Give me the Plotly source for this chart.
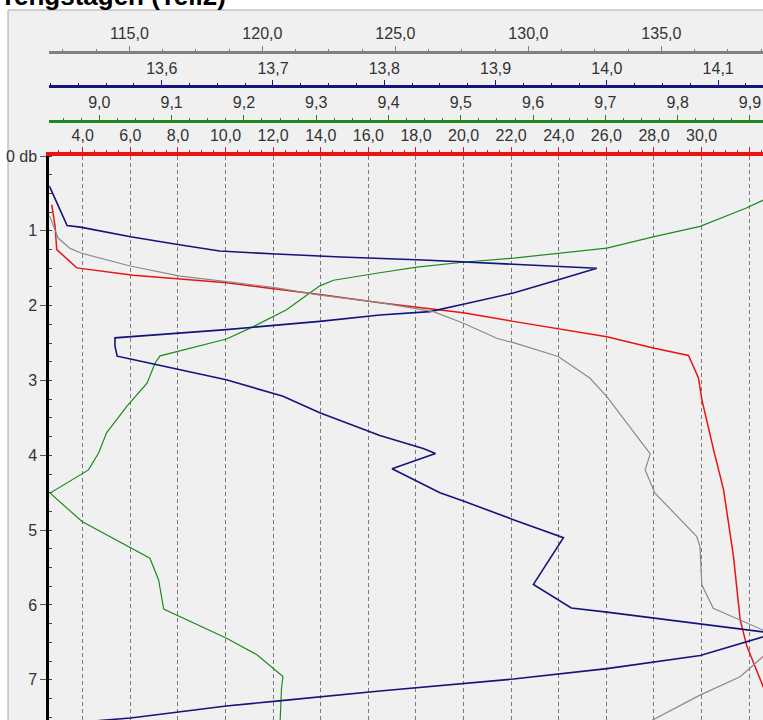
import plotly.graph_objects as go

# ---------------- data ----------------
# blue series (upper blue axis, 13.5 .. 14.14)
blue_val = [13.499, 13.515, 13.527, 13.572, 13.613, 13.652, 13.703, 13.761, 13.835, 13.916, 13.991,
            13.955, 13.916, 13.871, 13.841, 13.796, 13.742, 13.658, 13.574, 13.558, 13.558, 13.560,
            13.574, 13.658, 13.709, 13.742, 13.796, 13.835, 13.846, 13.807, 13.850, 13.871, 13.916,
            13.961, 13.934, 13.968, 14.000, 14.084, 14.151, 14.084, 14.000, 13.916, 13.796, 13.703,
            13.658, 13.572, 13.531]
blue_depth = [0.40, 0.93, 0.95, 1.08, 1.18, 1.27, 1.31, 1.35, 1.39, 1.45, 1.50,
              1.66, 1.83, 1.98, 2.08, 2.125, 2.21, 2.32, 2.41, 2.43, 2.54, 2.675,
              2.72, 2.99, 3.21, 3.43, 3.735, 3.91, 3.975, 4.18, 4.50, 4.61, 4.86,
              5.10, 5.725, 6.04, 6.095, 6.25, 6.38, 6.675, 6.85, 6.99, 7.15, 7.285,
              7.35, 7.51, 7.56]

# red series (red axis, 2.6 .. 32.6)
red_val = [2.70, 2.84, 2.91, 3.75, 6.13, 10.05, 12.01, 13.97, 16.49, 19.99, 22.09, 26.02,
           27.97, 29.45, 29.87, 30.01, 30.50, 30.92, 31.34, 31.62, 31.90, 32.46, 32.80]
red_depth = [0.65, 0.94, 1.25, 1.495, 1.595, 1.695, 1.775, 1.85, 1.96, 2.095, 2.21, 2.415,
             2.565, 2.665, 2.965, 3.255, 3.92, 4.455, 5.35, 6.195, 6.55, 7.00, 7.26]

# grey series (grey axis, 112 .. 138.8)
grey_val = [112.0, 112.33, 112.77, 113.21, 115.03, 116.91, 118.66, 120.41, 122.17, 124.42,
            126.43, 127.56, 128.81, 129.44, 131.12, 132.32, 132.95, 134.20, 134.58, 134.39,
            134.76, 136.33, 136.45, 136.52, 136.95, 138.82, 139.84, 138.82, 137.96, 136.45,
            134.70, 134.39]
grey_depth = [0.80, 1.10, 1.235, 1.30, 1.47, 1.605, 1.68, 1.755, 1.86, 1.96,
              2.08, 2.235, 2.435, 2.495, 2.68, 2.97, 3.215, 3.795, 3.98, 4.195,
              4.505, 5.085, 5.22, 5.73, 6.045, 6.335, 6.51, 6.69, 6.96, 7.205,
              7.53, 7.59]

# green series (green axis, 8.93 .. 9.92)
green_val = [9.969, 9.918, 9.895, 9.831, 9.766, 9.702, 9.674, 9.633, 9.573, 9.503, 9.439,
             9.388, 9.324, 9.305, 9.259, 9.213, 9.176, 9.084, 9.077, 9.066, 9.038, 9.010,
             8.999, 8.985, 8.932, 8.976, 9.010, 9.070, 9.082, 9.089, 9.176, 9.218, 9.254,
             9.252, 9.250]
green_depth = [0.36, 0.585, 0.695, 0.94, 1.08, 1.23, 1.26, 1.31, 1.365, 1.42, 1.485,
               1.56, 1.66, 1.735, 2.055, 2.28, 2.445, 2.67, 2.77, 3.035, 3.345, 3.70,
               3.97, 4.195, 4.505, 4.885, 5.06, 5.375, 5.665, 6.055, 6.445, 6.665, 6.955,
               7.11, 7.57]

red_ticks = [4, 6, 8, 10, 12, 14, 16, 18, 20, 22, 24, 26, 28, 30, 32]
green_ticks = [9.0, 9.1, 9.2, 9.3, 9.4, 9.5, 9.6, 9.7, 9.8, 9.9]
blue_ticks = [13.6, 13.7, 13.8, 13.9, 14.0, 14.1]
grey_ticks = [115, 120, 125, 130, 135]
depth_ticks = [0, 1, 2, 3, 4, 5, 6, 7]
depth_labels = ["0 db", "1", "2", "3", "4", "5", "6", "7"]
title_text = "Tengstagen (Teil2)"

# ---------------- styling ----------------
W, H = 763, 720
X0 = 49.3 / W
YTOP = (H - 156) / H

RED = "#e81414"
GREEN = "#1e8a1e"
BLUE = "#14147a"
GREY = "#808080"
FONT = dict(family="Liberation Sans, Arial, sans-serif", size=16, color="#333333")

fig = go.Figure()
fig.add_trace(go.Scatter(x=grey_val, y=grey_depth, xaxis="x4", yaxis="y", mode="lines",
                         line=dict(color="#8a8a8a", width=1.2), hoverinfo="skip"))
fig.add_trace(go.Scatter(x=green_val, y=green_depth, xaxis="x2", yaxis="y", mode="lines",
                         line=dict(color=GREEN, width=1.2), hoverinfo="skip"))
fig.add_trace(go.Scatter(x=red_val, y=red_depth, xaxis="x", yaxis="y", mode="lines",
                         line=dict(color=RED, width=1.5), hoverinfo="skip"))
fig.add_trace(go.Scatter(x=blue_val, y=blue_depth, xaxis="x3", yaxis="y", mode="lines",
                         line=dict(color=BLUE, width=1.6), hoverinfo="skip"))


def top_axis(rng, ticks, color, lw, pos, minor_dtick, minor_tick0, overlay=True):
    d = dict(domain=[X0, 1], range=rng, side="top", showline=True, linecolor=color,
             linewidth=lw, tickvals=ticks, tickformat=".1f", ticks="outside", ticklen=5,
             tickwidth=1, tickcolor=color, tickfont=FONT, showgrid=False, zeroline=False,
             fixedrange=True, automargin=False,
             minor=dict(dtick=minor_dtick, tick0=minor_tick0, ticks="outside", ticklen=2,
                        tickwidth=1, tickcolor=color, showgrid=False))
    if overlay:
        d.update(overlaying="x", anchor="free", position=pos)
    return d


xaxis = top_axis([2.597, 32.58], red_ticks, RED, 4, None, 0.5, 0, overlay=False)
xaxis.update(anchor="y", showgrid=True, gridcolor="#7a7a7a", gridwidth=1, griddash="4px,3px")

fig.update_layout(
    width=W, height=H,
    margin=dict(l=0, r=0, t=0, b=0),
    paper_bgcolor="white",
    plot_bgcolor="#f0f0f0",
    separators=",.",
    showlegend=False,
    xaxis=xaxis,
    xaxis2=top_axis([8.9308, 9.918], green_ticks, GREEN, 3, (H - 120.7) / H, 0.025, 9.0),
    xaxis3=top_axis([13.499, 14.1403], blue_ticks, BLUE, 3, (H - 86.2) / H, 0.025, 13.6),
    xaxis4=top_axis([111.99, 138.82], grey_ticks, GREY, 3, (H - 51.5) / H, 1.25, 115),
    yaxis=dict(domain=[0, YTOP], range=[7.537, 0], anchor="x", showline=True,
               linecolor="black", linewidth=3, ticks="outside", ticklen=6, tickwidth=1,
               tickcolor="#555555", tickvals=depth_ticks, ticktext=depth_labels,
               tickfont=dict(family="Liberation Sans, Arial, sans-serif", size=16, color="#333333"),
               showgrid=False, zeroline=False, fixedrange=True, automargin=False,
               minor=dict(dtick=0.25, tick0=0, ticks="inside", ticklen=3, tickwidth=1,
                          tickcolor="#444444", showgrid=False)),
    shapes=[dict(type="rect", xref="paper", yref="paper", x0=8 / W, x1=1.02, y0=-0.02,
                 y1=(H - 10) / H, fillcolor="#f0f0f0", line=dict(color="#a8a8a8", width=1),
                 layer="below")],
    annotations=[dict(text="<b>" + title_text + "</b>", xref="paper", yref="paper",
                      x=-0.003, y=(H - 13) / H, xanchor="left", yanchor="bottom",
                      showarrow=False,
                      font=dict(family="Liberation Sans, Arial, sans-serif", size=26,
                                color="black"))],
)

fig.write_html(
    "out.html",
    config={"displayModeBar": False},
    post_script="document.body.style.margin='0px';document.body.style.overflow='hidden';",
)
